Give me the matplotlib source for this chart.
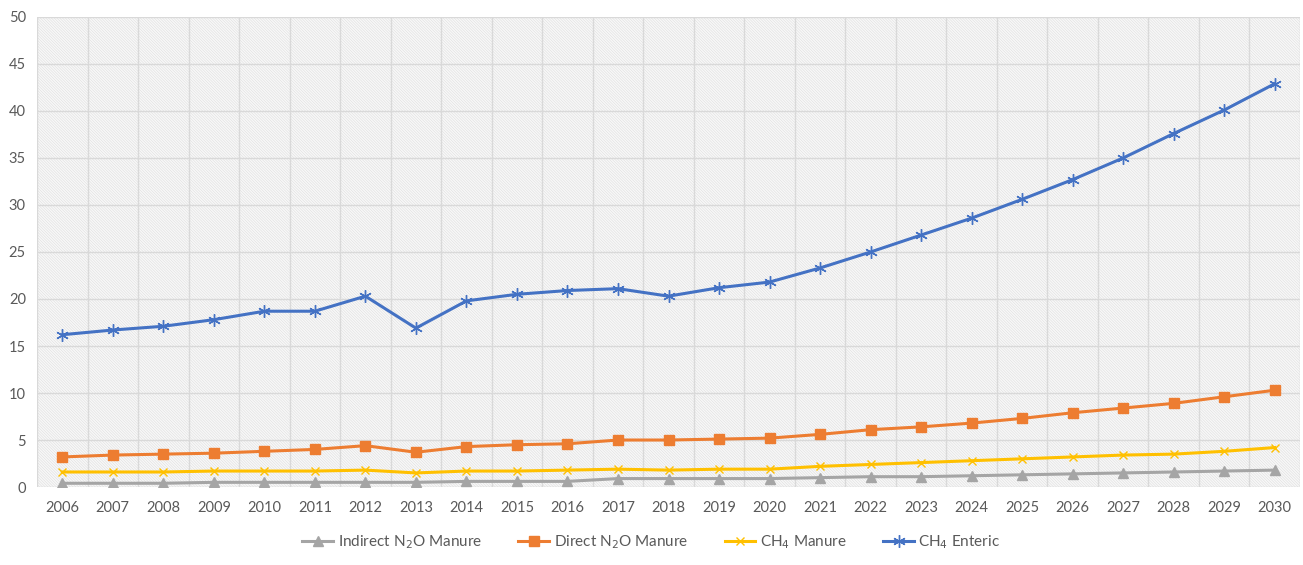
import matplotlib.pyplot as plt
from matplotlib.patches import Rectangle

years = list(range(2006, 2031))

indirect_n2o = [0.4, 0.4, 0.4, 0.5, 0.5, 0.5, 0.5, 0.5, 0.6, 0.6, 0.6, 0.9, 0.9,
                0.9, 0.9, 1.0, 1.1, 1.1, 1.2, 1.3, 1.4, 1.5, 1.6, 1.7, 1.8]
direct_n2o = [3.2, 3.4, 3.5, 3.6, 3.8, 4.0, 4.4, 3.7, 4.3, 4.5, 4.6, 5.0, 5.0,
              5.1, 5.2, 5.6, 6.1, 6.4, 6.8, 7.3, 7.9, 8.4, 8.9, 9.6, 10.3]
ch4_manure = [1.6, 1.6, 1.6, 1.7, 1.7, 1.7, 1.8, 1.5, 1.7, 1.7, 1.8, 1.9, 1.8,
              1.9, 1.9, 2.2, 2.4, 2.6, 2.8, 3.0, 3.2, 3.4, 3.5, 3.8, 4.2]
ch4_enteric = [16.2, 16.7, 17.1, 17.8, 18.7, 18.7, 20.3, 16.9, 19.8, 20.5, 20.9, 21.1, 20.3,
               21.2, 21.8, 23.3, 25.0, 26.8, 28.6, 30.6, 32.7, 35.0, 37.6, 40.1, 42.9]

plt.rcParams["font.family"] = ["Lato", "DejaVu Sans"]
plt.rcParams["hatch.linewidth"] = 0.35
plt.rcParams["hatch.color"] = "#dadada"

fig = plt.figure(figsize=(13.03, 5.65), dpi=100)
ax = fig.add_axes([0.0284, 0.138, 0.9693, 0.832])

x = list(range(len(years)))
ax.set_xlim(-0.5, len(years) - 0.5)
ax.set_ylim(0, 50)

# hatched background like the original
ax.set_facecolor("#f8f8f8")
ax.add_patch(Rectangle((0, 0), 1, 1, transform=ax.transAxes, facecolor="none",
                       edgecolor="#dadada", hatch="\\" * 12, lw=0, zorder=0))

for yv in range(0, 51, 5):
    ax.axhline(yv, color="#d9d9d9", lw=1, zorder=1)
for xv in range(len(years) + 1):
    ax.axvline(xv - 0.5, color="#d9d9d9", lw=1, zorder=1)

ax.plot(x, indirect_n2o, color="#a5a5a5", lw=2.2, marker="^", ms=6.5, zorder=3,
        label="Indirect N$_2$O Manure")
ax.plot(x, direct_n2o, color="#ed7d31", lw=2.2, marker="s", ms=6.5, zorder=3,
        label="Direct N$_2$O Manure")
ax.plot(x, ch4_manure, color="#ffc000", lw=2.2, marker="x", ms=6, mew=1, zorder=3,
        label="CH$_4$ Manure")
ax.plot(x, ch4_enteric, color="#4472c4", lw=2.2, marker=(6, 2, 0), ms=9, mew=1, zorder=3,
        label="CH$_4$ Enteric")

ax.set_xticks(x)
ax.set_xticklabels([str(y) for y in years])
ax.set_yticks(range(0, 51, 5))
ax.tick_params(axis="both", length=0, labelsize=10.5, labelcolor="#595959")
ax.tick_params(axis="x", pad=10)
ax.tick_params(axis="y", pad=8)
for s in ax.spines.values():
    s.set_visible(False)

leg = fig.legend(loc="lower center", bbox_to_anchor=(0.5, 0.0), ncol=4, frameon=False,
                 fontsize=11, handlelength=2, columnspacing=2.4, handletextpad=0.3)
for t in leg.get_texts():
    t.set_color("#595959")

fig.savefig("out.png", dpi=100)
